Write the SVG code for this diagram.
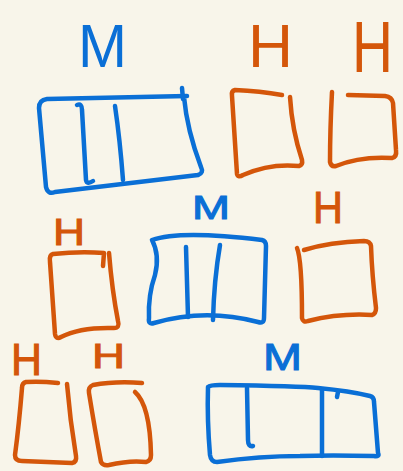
<svg xmlns="http://www.w3.org/2000/svg" width="403" height="471" viewBox="0 0 403 471">
<style>
.b{fill:none;stroke:#0A6FD6;stroke-width:4.5;stroke-linecap:round;stroke-linejoin:round}
.o{fill:none;stroke:#D4560A;stroke-width:4.5;stroke-linecap:round;stroke-linejoin:round}
.tb{fill:#0A6FD6;stroke:#0A6FD6;stroke-width:1;font-family:"Liberation Sans",Arial,sans-serif}
.to{fill:#D4560A;stroke:#D4560A;stroke-width:1;font-family:"Liberation Sans",Arial,sans-serif}
.big{stroke-width:0}
</style>
<rect width="403" height="471" fill="#F8F5EA"/>
<g id="m1">
<text class="tb big" x="78" y="67" font-size="61" textLength="49" lengthAdjust="spacingAndGlyphs">M</text>
<path class="b" d="M187,96 L47,99 Q39,100 39,108 L46,187 Q48,195 55,192 L198,175 Q204,173 201,167 Q187,130 184,97"/>
<path class="b" d="M182,88 L183,99"/>
<path class="b" d="M77,105 Q82,103 82,110 L86,180 Q87,185 93,181"/>
<path class="b" d="M115,106 Q120,140 123,180"/>
</g>
<g id="h1">
<text class="to big" x="248" y="67" font-size="62" textLength="45" lengthAdjust="spacingAndGlyphs">H</text>
<path class="o" d="M282,95 Q260,91 235,90 Q231,91 232,96 L237,174 Q238,178 243,175 Q270,163 299,166 Q303,165 302,160 Q292,130 290,97"/>
</g>
<g id="h2">
<text class="to big" x="352" y="72" font-size="72" textLength="41" lengthAdjust="spacingAndGlyphs">H</text>
<path class="o" d="M332,92 Q330,130 330,162 Q331,167 336,166 Q360,156 392,158 Q397,157 396,150 L393,103 Q392,97 385,96 L348,95"/>
</g>
<g id="h3">
<text class="to" x="53" y="245" font-size="37" textLength="32" lengthAdjust="spacingAndGlyphs">H</text>
<path class="o" d="M103,266 L104,253 Q80,251 53,254 Q49,255 50,262 L55,334 Q56,340 61,337 Q80,327 114,328 Q120,328 118,321 Q112,290 109,253"/>
</g>
<g id="m2">
<text class="tb" x="192" y="219" font-size="33" textLength="38" lengthAdjust="spacingAndGlyphs">M</text>
<path class="b" d="M152,240 Q180,230 262,240 Q266,241 266,246 L264,318 Q264,324 258,322 Q205,308 154,323 Q148,325 149,318 Q148,295 155,275 Q160,255 152,240"/>
<path class="b" d="M186,247 L188,317"/>
<path class="b" d="M220,245 Q214,280 213,320"/>
</g>
<g id="h4">
<text class="to" x="313" y="223" font-size="45" textLength="30" lengthAdjust="spacingAndGlyphs">H</text>
<path class="o" d="M297,248 Q302,260 302,318 Q303,323 308,321 Q340,313 372,315 Q376,314 376,308 Q372,275 371,246 Q370,241 364,241 Q330,242 304,250"/>
</g>
<g id="h5">
<text class="to" x="11" y="375" font-size="44" textLength="31" lengthAdjust="spacingAndGlyphs">H</text>
<path class="o" d="M58,383 Q40,381 26,382 Q22,383 22,388 Q19,425 15,455 Q15,461 22,461 L72,463 Q77,462 76,456 Q70,420 67,384"/>
</g>
<g id="h6">
<text class="to" x="92" y="368" font-size="35" textLength="33" lengthAdjust="spacingAndGlyphs">H</text>
<path class="o" d="M142,383 Q115,381 93,385 Q88,387 89,393 Q95,430 101,462 Q103,466 109,465 Q130,460 146,462 Q151,461 151,455 Q150,405 135,392"/>
</g>
<g id="m3">
<text class="tb" x="263" y="370" font-size="37" textLength="39" lengthAdjust="spacingAndGlyphs">M</text>
<path class="b" d="M208,387 Q210,385 220,385 Q300,386 318,388 Q350,391 370,396 Q374,397 374,402 L378,453 Q380,457 374,456 Q330,455 300,456 Q260,456 217,462 Q211,462 210,455 Q207,420 208,387"/>
<path class="b" d="M247,388 L248,440 Q248,447 253,446"/>
<path class="b" d="M322,390 L322,456"/>
<path class="b" d="M338,392 L337,397"/>
</g>
</svg>
